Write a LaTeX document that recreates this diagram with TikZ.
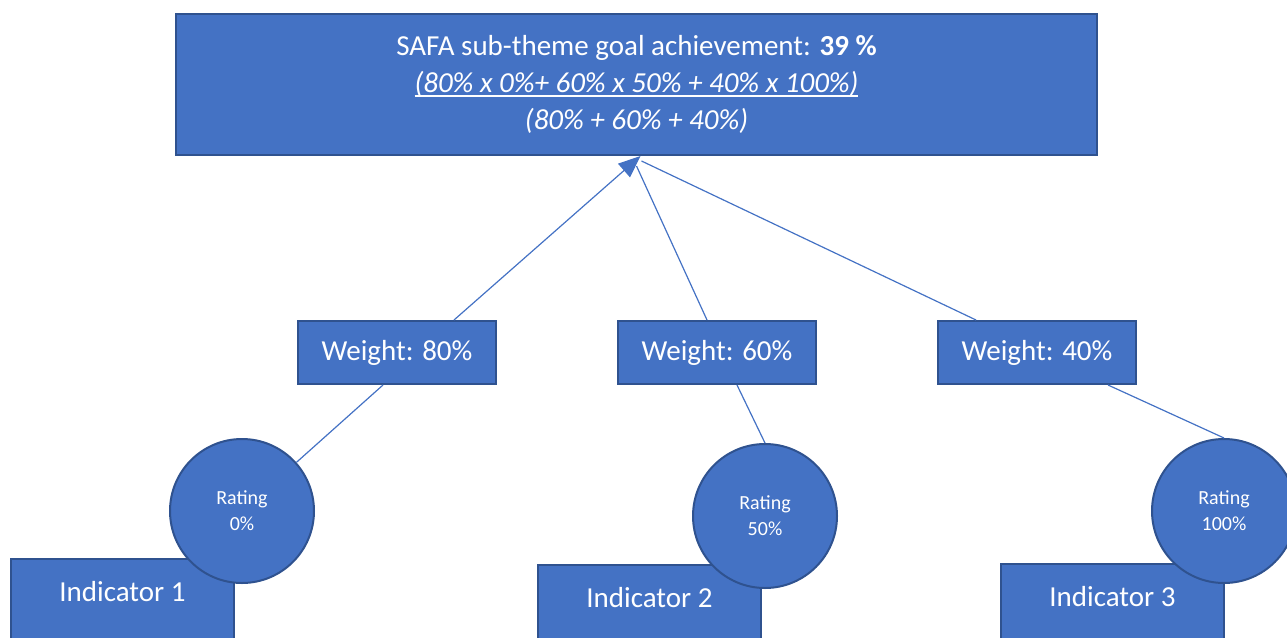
\documentclass[tikz,border=0pt]{standalone}
\usepackage{fontspec}
\setmainfont{Carlito}
\usetikzlibrary{arrows.meta}
\definecolor{fillblue}{HTML}{4472C4}
\definecolor{edgeblue}{HTML}{2F528F}
\newcommand{\ulined}[1]{\setbox0\hbox{#1}\rlap{\rule[-4.5pt]{\wd0}{1.8pt}}\box0}
\tikzset{
  box/.style={draw=edgeblue, fill=fillblue, line width=2pt, text=white, inner sep=0pt, font=\fontsize{29}{37}\selectfont},
  weightbox/.style={box, minimum width=198pt, minimum height=63pt},
  indbox/.style={box, minimum width=223pt, text height=42pt, text depth=70pt, anchor=north},
  rating/.style={box, circle, minimum size=144pt, align=center, font=\fontsize{20}{26}\selectfont},
  link/.style={draw=fillblue, line width=1.2pt}
}
\begin{document}
\begin{tikzpicture}[x=1pt, y=-1pt]
\useasboundingbox (0,0) rectangle (1287,637);
\clip (0,0) rectangle (1287,637);
\node[box, minimum width=921pt, minimum height=141pt, align=center] (goal) at (636.5,84.5)
  {SAFA sub-theme goal achievement: \textbf{39 \%}\\
   \ulined{\textit{(80\% x 0\%+ 60\% x 50\% + 40\% x 100\%)}}\\
   \textit{(80\% + 60\% + 40\%)}};
\foreach \i/\x/\w in {1/397/80, 2/717/60, 3/1037/40}
{
    \node[weightbox] (w\i) at (\x,352.5) {Weight: \w\%};
}
\foreach \i/\x/\y in {1/122.5/558, 2/649.5/564, 3/1112.5/563}
{
    \node[indbox] (ind\i) at (\x,\y) {Indicator \i};
}
\foreach \i/\x/\y/\r in {1/242/511/0, 2/765/516/50, 3/1224/511/100}
{
    \node[rating] (r\i) at (\x,\y) {Rating\\\r\%};
}

\draw[link] ([xshift=-10pt]w2.north) -- ([yshift=-10pt]goal.south);
\draw[link] ([xshift=-61pt]w3.north) -- ([xshift=5pt,yshift=-5pt]goal.south);
\draw[link, -{Triangle[length=22pt,width=18pt]}] ([xshift=57pt]w1.north) -- ([xshift=4pt]goal.south);
\draw[link] (r1) -- ([xshift=-14pt]w1.south);
\draw[link] ([xshift=20pt]w2.south) -- (r2.north);
\draw[link] ([xshift=71pt]w3.south) -- (r3.north);
\end{tikzpicture}
\end{document}
